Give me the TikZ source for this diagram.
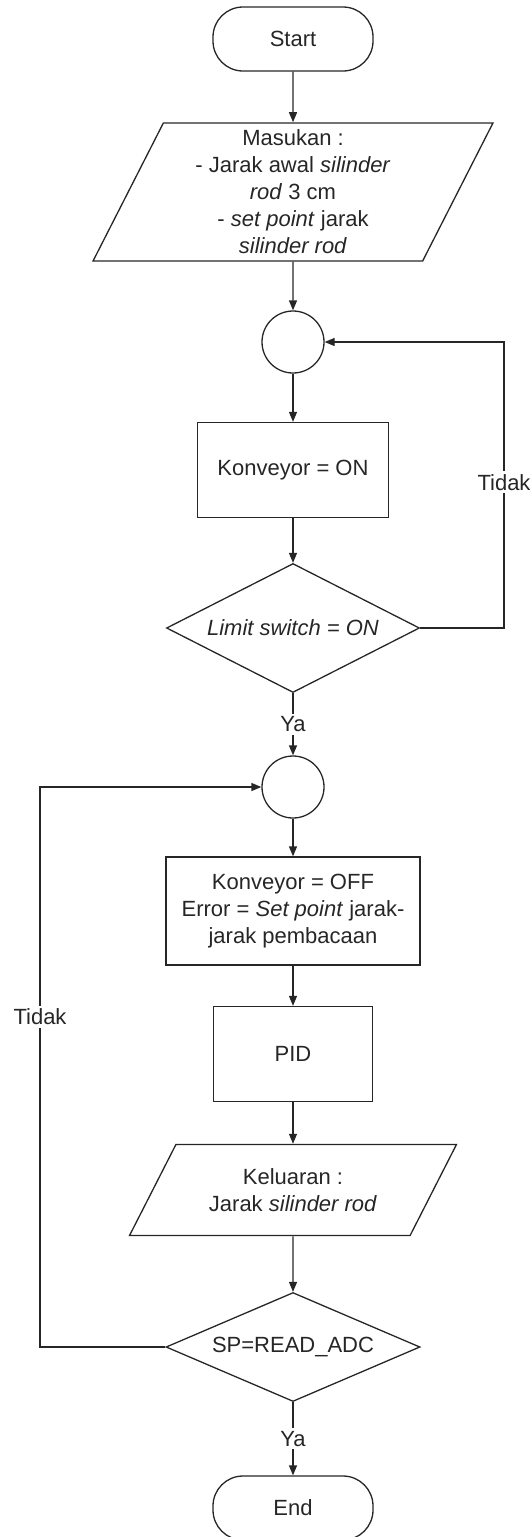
\documentclass[tikz,border=0pt]{standalone}
\usepackage{fontspec}
\setmainfont{Liberation Sans}
\usetikzlibrary{positioning, arrows.meta, shapes.geometric}

\begin{document}
\begin{tikzpicture}[x=0.5pt,y=-0.5pt,font=\fontsize{11}{13.5}\selectfont,
  >={Triangle[length=5pt,width=4pt]},line width=0.65pt,color=black!85,
  term/.style={draw,rounded corners=15pt,minimum width=80pt,minimum height=32pt},
  io/.style={draw,trapezium,trapezium left angle=63,trapezium right angle=117,trapezium stretches body,align=center,inner xsep=1pt},
  proc/.style={draw,align=center},
  dec/.style={draw,diamond,aspect=2,align=center,inner sep=0pt},
  con/.style={draw,circle,minimum size=31pt,inner sep=0pt},
  lbl/.style={fill=white,inner sep=1.5pt}]
  \useasboundingbox (0,0) rectangle (530,1537);
  % blok utama
  \node[io,inner ysep=3.5pt,minimum width=200pt](in) at (293,192){Masukan :\\ - Jarak awal \textit{silinder}\\ \textit{rod} 3 cm\\ - \textit{set point} jarak\\ \textit{silinder rod}};
  \node[term](start) at (293,39){Start};
  \node[con](c1) at (293,342){};
  \node[proc,minimum width=95.5pt,minimum height=47.5pt](on) at (293,470){Konveyor = ON};
  \node[dec,minimum width=126.5pt,minimum height=64.5pt](d1) at (293,628){\textit{Limit switch = ON}};
  \node[con](c2) at (293,787){};
  \node[proc,minimum width=127pt,minimum height=54pt](off) at (293,911){Konveyor = OFF\\ Error = \textit{Set point} jarak-\\ jarak pembacaan};
  \node[proc,minimum width=79.5pt,minimum height=47.5pt](pid) at (293,1054){PID};
  \node[io,inner ysep=12pt,minimum width=163.5pt](out) at (293,1190){Keluaran :\\ Jarak \textit{silinder rod}};
  \node[dec,minimum width=127pt,minimum height=54.5pt](d2) at (293,1347){SP=READ\_ADC};
  \node[term](end) at (293,1508){End};
  % titik belok loop
  \coordinate (r1) at (504,628);
  \coordinate (l2) at (40,1347);
  \draw[->](start)--(in);\draw[->](in)--(c1);\draw[->](c1)--(on);\draw[->](on)--(d1);
  \draw[->](d1)--node[lbl]{Ya}(c2);
  \draw[->](c2)--(off);\draw[->](off)--(pid);\draw[->](pid)--(out);\draw[->](out)--(d2);
  \draw[->](d2)--node[lbl]{Ya}(end);
  \draw[->](d1.east)--(r1)|-node[lbl,pos=0.255]{Tidak}(c1.east);
  \draw[->](d2.west)--(l2)|-node[lbl,pos=0.295]{Tidak}(c2.west);
\end{tikzpicture}
\end{document}
